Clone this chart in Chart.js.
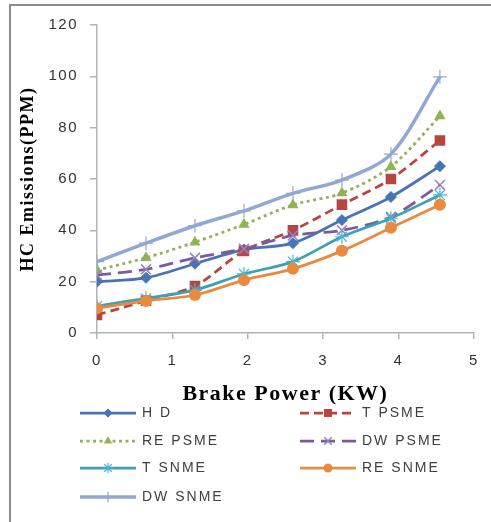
<!DOCTYPE html>
<html>
<head>
<meta charset="utf-8">
<script src="https://cdn.jsdelivr.net/npm/chart.js@4.4.0/dist/chart.umd.min.js"></script>
<style>
  html, body { margin: 0; padding: 0; background: #fff; }
  #wrap { width: 491px; height: 522px; }
</style>
</head>
<body>
<div id="wrap"><canvas id="hcChart" width="491" height="522"></canvas></div>
<script>
// brake power (KW) readings
var brakePower = [0, 0.65, 1.3, 1.95, 2.6, 3.25, 3.9, 4.55];

// HC emissions (PPM) per fuel
var hdVals     = [20, 21.5, 27, 32.5, 35, 44, 53, 65];
var tPsmeVals  = [7, 12.6, 18.3, 32, 40, 50, 60, 75];
var rePsmeVals = [24.5, 29.3, 35.4, 42.3, 49.9, 54.5, 64.8, 84.5];
var dwPsmeVals = [22.6, 24.8, 29.3, 32.8, 38, 40, 45.3, 57.7];
var tSnmeVals  = [10.5, 13.5, 16.7, 23, 27.8, 37.5, 44.7, 53.8];
var reSnmeVals = [9.6, 12.5, 14.8, 20.6, 25, 32, 41, 50];
var dwSnmeVals = [27.8, 35, 41.8, 47.6, 54.4, 59.6, 69.7, 99.8];

var seriesNames = ['H D', 'T PSME', 'RE PSME', 'DW PSME', 'T SNME', 'RE SNME', 'DW SNME'];
var yMin = 0, yMax = 120, yStep = 20;
var xMin = 0, xMax = 5, xStep = 1;

function makeSeries(idx, values, st) {
  return {
    label: seriesNames[idx],
    data: brakePower.map(function (x, i) { return { x: x, y: values[i] }; }),
    borderColor: st.color,
    backgroundColor: st.color,
    borderWidth: st.width || 2.75,
    borderDash: st.dash || [],
    pointStyle: st.marker,
    pointRadius: st.radius,
    pointBackgroundColor: st.fill || st.color,
    pointBorderColor: st.edge || st.color,
    pointBorderWidth: st.edgeWidth || 0,
    tension: 0.3,
    fill: false,
    order: 7 - idx
  };
}

var datasets = [
  makeSeries(0, hdVals,     { color: '#4674b6', marker: 'rectRot', radius: 5.5, edgeWidth: 1 }),
  makeSeries(1, tPsmeVals,  { color: '#b94542', dash: [9, 5], marker: 'rect', radius: 7.5 }),
  makeSeries(2, rePsmeVals, { color: '#93b255', dash: [3, 3.5], marker: 'triangle', radius: 6.5 }),
  makeSeries(3, dwPsmeVals, { color: '#7b5a9e', dash: [14, 7], marker: 'crossRot', radius: 7, edge: '#9a82bd', edgeWidth: 1.5 }),
  makeSeries(4, tSnmeVals,  { color: '#3f9fb7', marker: 'star', radius: 7, edge: '#4bb4cf', edgeWidth: 1.2 }),
  makeSeries(5, reSnmeVals, { color: '#ea8a3e', marker: 'circle', radius: 6 }),
  makeSeries(6, dwSnmeVals, { color: '#91a8d3', width: 3.5, marker: 'cross', radius: 7, edgeWidth: 1.2 })
];

// gray frame + slightly spaced text like the original picture
var framePlugin = {
  id: 'frame',
  beforeDraw: function (chart) {
    var ctx = chart.ctx;
    ctx.save();
    ctx.strokeStyle = '#8c8c8c';
    ctx.lineWidth = 2;
    ctx.beginPath();
    ctx.moveTo(10, chart.height);
    ctx.lineTo(10, 5);
    ctx.lineTo(chart.width, 5);
    ctx.stroke();
    ctx.restore();
    ctx.letterSpacing = '1.5px';
  },
  afterDraw: function (chart) {
    chart.ctx.letterSpacing = '0px';
  }
};

// two-column legend below the axis title
var gridLegend = {
  id: 'gridLegend',
  afterDraw: function (chart) {
    var ctx = chart.ctx;
    var cols = [80, 300];
    var rows = [413, 441, 468, 497];
    var lineLen = 56;
    chart.data.datasets.forEach(function (ds, i) {
      var x0 = cols[i % 2];
      var y = rows[Math.floor(i / 2)];
      ctx.save();
      ctx.strokeStyle = ds.borderColor;
      ctx.lineWidth = ds.borderWidth;
      ctx.setLineDash(ds.borderDash);
      ctx.beginPath();
      ctx.moveTo(x0, y);
      ctx.lineTo(x0 + lineLen, y);
      ctx.stroke();
      ctx.setLineDash([]);
      ctx.fillStyle = ds.pointBackgroundColor;
      ctx.strokeStyle = ds.pointBorderColor;
      ctx.lineWidth = ds.pointBorderWidth;
      Chart.helpers.drawPoint(ctx, {
        pointStyle: ds.pointStyle,
        radius: ds.pointRadius * 0.75,
        rotation: 0,
        borderWidth: ds.pointBorderWidth
      }, x0 + lineLen / 2, y);
      ctx.letterSpacing = '2px';
      ctx.font = '14px "Liberation Sans", Arial, sans-serif';
      ctx.fillStyle = '#404040';
      ctx.textAlign = 'left';
      ctx.textBaseline = 'middle';
      ctx.fillText(ds.label, x0 + lineLen + 6, y);
      ctx.restore();
    });
  }
};

var axisGray = '#b3b3b3';
var tickFont = { family: 'Liberation Sans', size: 15 };

var hcChart = new Chart(document.getElementById('hcChart'), {
  type: 'line',
  data: { datasets: datasets },
  options: {
    responsive: false,
    animation: false,
    layout: { padding: { left: 10, top: 25, right: 12, bottom: 114 } },
    plugins: {
      legend: { display: false },
      tooltip: { enabled: false }
    },
    scales: {
      x: {
        type: 'linear',
        min: xMin,
        max: xMax,
        ticks: { stepSize: xStep, color: '#333333', font: tickFont, padding: 13 },
        grid: { drawOnChartArea: false, tickLength: 6, color: axisGray, lineWidth: 1.5 },
        border: { color: axisGray, width: 1.5 },
        title: {
          display: true,
          text: 'Brake Power (KW)',
          color: '#000',
          font: { family: 'Liberation Serif', size: 22, weight: 'bold' },
          padding: 0
        },
        afterFit: function (scale) { scale.height = 75; }
      },
      y: {
        min: yMin,
        max: yMax,
        ticks: { stepSize: yStep, color: '#333333', font: tickFont, padding: 12 },
        grid: { drawOnChartArea: false, tickLength: 7, color: axisGray, lineWidth: 1.5 },
        border: { color: axisGray, width: 1.5 },
        title: {
          display: true,
          text: 'HC Emissions(PPM)',
          color: '#000',
          font: { family: 'Liberation Serif', size: 18, weight: 'bold' },
          padding: { top: 8, bottom: 0 }
        },
        afterFit: function (scale) { scale.width = 87; }
      }
    }
  },
  plugins: [framePlugin, gridLegend]
});
</script>
</body>
</html>
